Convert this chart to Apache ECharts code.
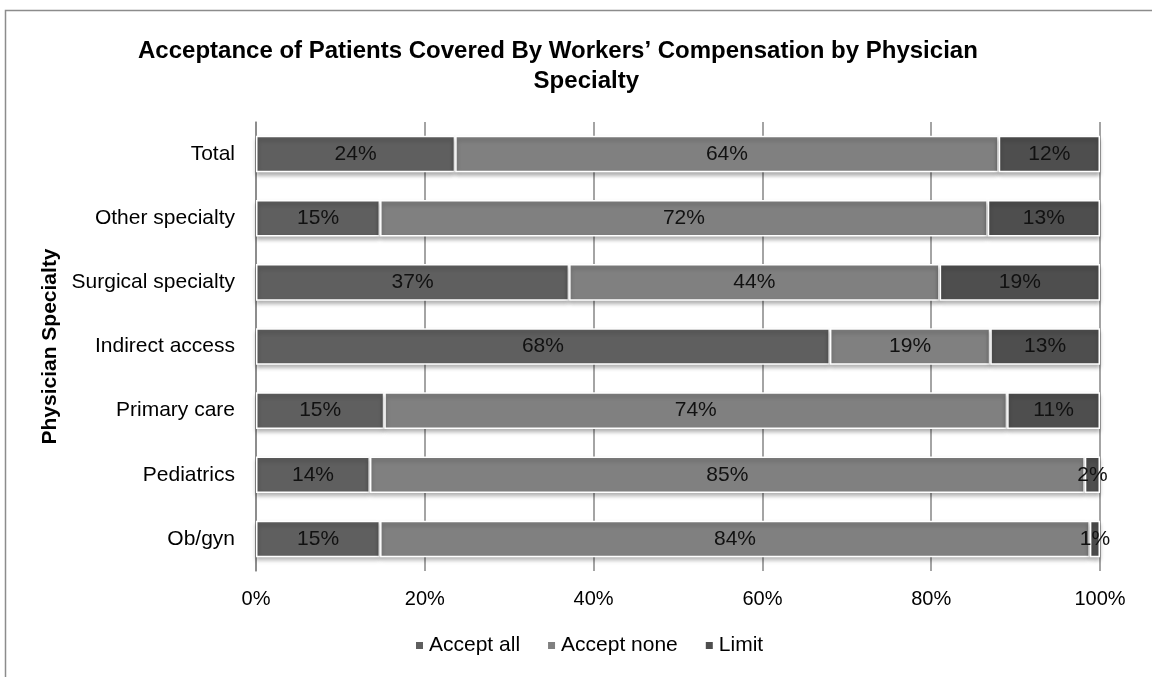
<!DOCTYPE html>
<html>
<head>
  <meta charset="utf-8">
  <script src="https://cdn.jsdelivr.net/npm/echarts/dist/echarts.min.js"></script>
  <title>Acceptance of Patients Covered By Workers' Compensation</title>
  <style>
    html, body { margin: 0; padding: 0; background: #fff; }
    #chart { width: 1152px; height: 677px; }
  </style>
</head>
<body>
  <div id="chart"></div>
  <script>
    // categories, top to bottom
    const specialties = ["Total", "Other specialty", "Surgical specialty", "Indirect access", "Primary care", "Pediatrics", "Ob/gyn"];
    const acceptAll = [23.6, 14.7, 37.1, 68.0, 15.2, 13.5, 14.7];
    const acceptNone = [64.4, 72.0, 43.9, 19.0, 73.8, 84.7, 84.1];
    const limit = [12.0, 13.3, 19.0, 13.0, 11.0, 1.8, 1.2];
    const xTicks = [0, 20, 40, 60, 80, 100];

    const chart = echarts.init(document.getElementById("chart"));
    const font = "'Liberation Sans', Arial, sans-serif";

    function barSeries(name, data, color) {
      return {
        name: name,
        type: "bar",
        stack: "total",
        barWidth: "57%",
        data: data,
        itemStyle: {
          color: color,
          borderColor: "#fff",
          borderWidth: 1.5,
          shadowColor: "rgba(0,0,0,0.3)",
          shadowBlur: 4,
          shadowOffsetY: 3,
        },
        label: {
          show: true,
          position: "inside",
          formatter: (p) => Math.round(p.value) + "%",
          color: "#111",
          fontSize: 21,
          fontFamily: font,
        },
      };
    }

    const titleStyle = { fontSize: 24, fontWeight: "bold", color: "#000", fontFamily: font };

    const option = {
      animation: false,
      textStyle: { fontFamily: font },
      graphic: [
        {
          type: "rect",
          shape: { x: 5.5, y: 10.5, width: 1160, height: 700 },
          style: { fill: "none", stroke: "#8c8c8c", lineWidth: 1.5 },
          silent: true,
        },
      ],
      title: [
        {
          text: "Acceptance of Patients Covered By Workers\u2019 Compensation by Physician",
          left: 133,
          top: 34,
          textStyle: titleStyle,
        },
        {
          text: "Specialty",
          left: 634,
          top: 64,
          textAlign: "right",
          textStyle: titleStyle,
        },
      ],
      legend: {
        data: ["Accept all", "Accept none", "Limit"],
        bottom: 16,
        left: 409,
        icon: "rect",
        itemWidth: 9,
        itemHeight: 9,
        itemGap: 26,
        textStyle: { fontSize: 21, color: "#000", fontFamily: font },
      },
      grid: { left: 256, right: 52, top: 122, bottom: 106, containLabel: false },
      xAxis: {
        type: "value",
        min: xTicks[0],
        max: xTicks[xTicks.length - 1],
        interval: 20,
        axisLine: { show: false },
        axisTick: { show: false },
        axisLabel: { formatter: "{value}%", fontSize: 20, color: "#000", margin: 18 },
        splitLine: { show: true, lineStyle: { color: "#868686", width: 1.5 } },
      },
      yAxis: {
        type: "category",
        data: specialties,
        inverse: true,
        name: "Physician Specialty",
        nameLocation: "middle",
        nameGap: 190,
        nameTextStyle: { fontSize: 21, fontWeight: "bold", color: "#000" },
        axisLine: { show: true, lineStyle: { color: "#868686", width: 1.5 } },
        axisTick: { show: false },
        axisLabel: { fontSize: 21, color: "#000", margin: 21 },
      },
      series: [
        barSeries("Accept all", acceptAll, "#5f5f5f"),
        barSeries("Accept none", acceptNone, "#808080"),
        barSeries("Limit", limit, "#4e4e4e"),
      ],
    };

    chart.setOption(option);
    window.addEventListener("resize", () => chart.resize());
  </script>
</body>
</html>
